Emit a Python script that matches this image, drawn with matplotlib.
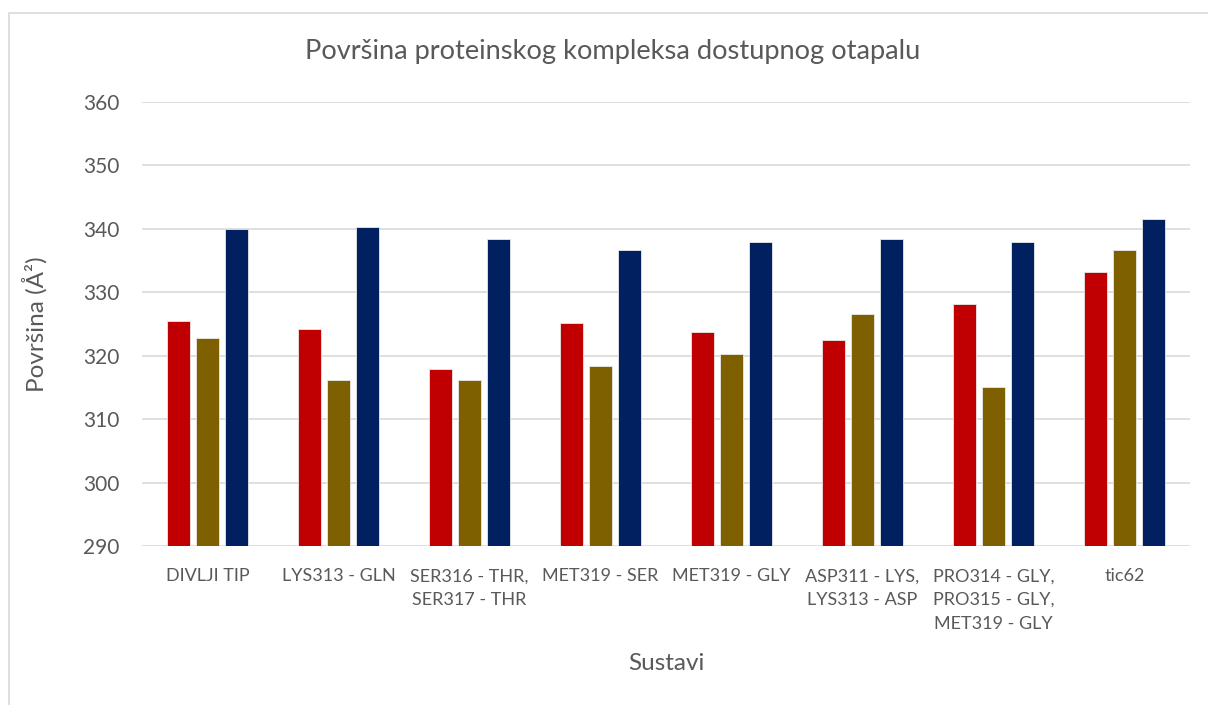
import matplotlib
matplotlib.use("Agg")
import matplotlib.pyplot as plt
import numpy as np
from matplotlib.patches import Rectangle

categories = ["DIVLJI TIP", "LYS313 - GLN", "SER316 - THR,\nSER317 - THR", "MET319 - SER",
              "MET319 - GLY", "ASP311 - LYS,\nLYS313 - ASP", "PRO314 - GLY,\nPRO315 - GLY,\nMET319 - GLY", "tic62"]
series_red = [325.4, 324.2, 317.9, 325.1, 323.8, 322.4, 328.2, 333.2]
series_olive = [322.8, 316.1, 316.2, 318.3, 320.2, 326.6, 315.0, 336.6]
series_navy = [339.9, 340.3, 338.4, 336.6, 337.9, 338.4, 337.9, 341.5]
colors = ["#C00000", "#7F6000", "#002060"]
yticks = [290, 300, 310, 320, 330, 340, 350, 360]

plt.rcParams['font.family'] = ['Lato', 'DejaVu Sans']
txt = "#595959"

fig = plt.figure(figsize=(12.08, 7.05), dpi=100)
W, H = 1208, 705
ax = fig.add_axes([142 / W, 1 - 546 / H, (1190 - 142) / W, (546 - 102) / H])

x = np.arange(len(categories))
bw = 0.173
pitch = 0.219
for i, (vals, c) in enumerate(zip([series_red, series_olive, series_navy], colors)):
    ax.bar(x + (i - 1) * pitch, np.array(vals) - 290, bottom=290, width=bw, color=c,
           edgecolor="#E8E8E8", linewidth=0.6, zorder=3)

ax.set_xlim(-0.5, len(categories) - 0.5)
ax.set_ylim(290, 360)
ax.set_yticks(yticks)
ax.set_yticklabels([str(t) for t in yticks], fontsize=15, color=txt)
ax.set_xticks(x)
ax.set_xticklabels(categories, fontsize=13, color=txt, linespacing=1.6, va="top")
ax.tick_params(axis='both', length=0)
ax.tick_params(axis='y', pad=16)
ax.tick_params(axis='x', pad=16)
ax.grid(axis='y', color="#D9D9D9", linewidth=1.2, zorder=0)
for s in ax.spines.values():
    s.set_visible(False)
ax.set_axisbelow(True)

fig.text(613 / W, 1 - 52 / H, "Površina proteinskog kompleksa dostupnog otapalu",
         ha="center", va="center", fontsize=19.6, color=txt)
fig.text(35 / W, 1 - 324 / H, "Površina (Å²)", rotation=90, ha="center", va="center",
         fontsize=17.5, color=txt)
fig.text(666 / W, 1 - 663 / H, "Sustavi", ha="center", va="center", fontsize=17.5, color=txt)

fig.patches.append(Rectangle((9 / W, -0.1), 1.2, 1 - 13 / H + 0.1, transform=fig.transFigure,
                             fill=False, edgecolor="#D9D9D9", linewidth=1.2))

fig.savefig("out.png", dpi=100, facecolor="white")
